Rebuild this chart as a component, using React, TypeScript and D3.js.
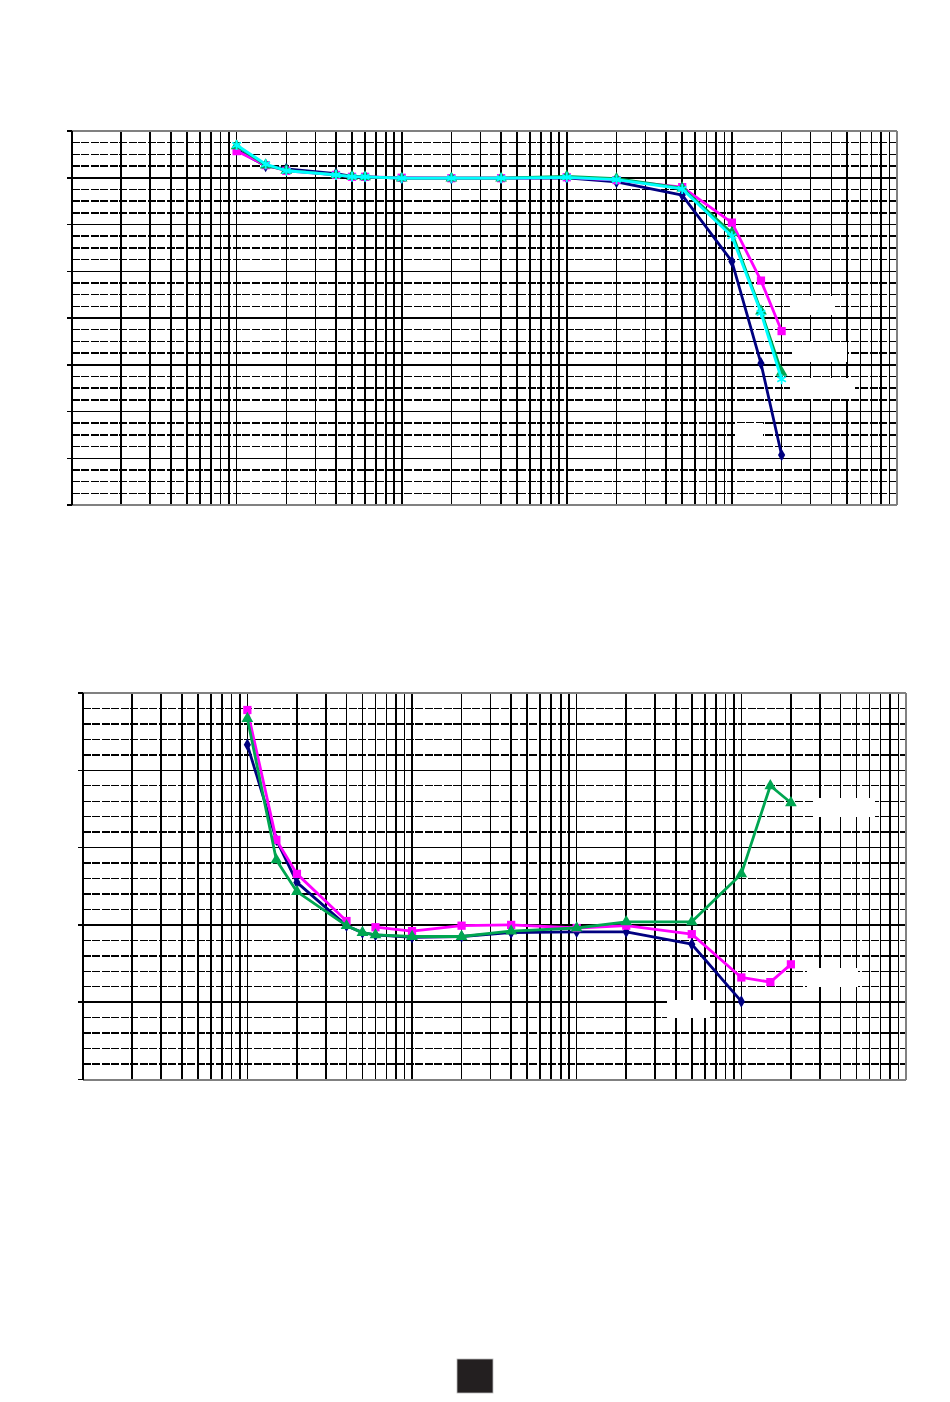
import React from "react";
import * as d3 from "d3";

// ---------- data ----------
const freqs = [100, 150, 200, 400, 500, 600, 1000, 2000, 4000, 10000, 20000, 50000, 100000, 150000, 200000];

// chart 1 (response), units per major grid division = 1
const c1Navy = [0.6, 0.25, 0.19, 0.09, 0.03, 0.02, -0.01, -0.01, -0.01, 0.0, -0.09, -0.37, -1.79, -3.97, -5.93];
const c1Magenta = [0.57, 0.27, 0.15, 0.06, 0.02, 0.02, 0.0, -0.01, -0.01, 0.01, -0.05, -0.2, -0.96, -2.2, -3.28];
const c1Green = [0.68, 0.27, 0.16, 0.06, 0.03, 0.02, -0.01, -0.01, -0.01, 0.03, -0.02, -0.22, -1.18, -2.85, -4.16];
const c1Cyan = [0.7, 0.29, 0.15, 0.06, 0.02, 0.02, -0.01, -0.01, -0.01, 0.01, -0.04, -0.24, -1.25, -2.89, -4.31];

// chart 2
const c2Navy: (number | null)[] = [4.33, 3.1, 2.55, 1.99, 1.9, 1.87, 1.84, 1.85, 1.9, 1.91, 1.91, 1.75, 1.01, null, null];
const c2Magenta: (number | null)[] = [4.78, 3.1, 2.66, 2.05, null, 1.97, 1.92, 1.99, 2.0, 1.96, 1.99, 1.88, 1.32, 1.26, 1.49];
const c2Green: (number | null)[] = [4.67, 2.84, 2.43, 1.99, 1.9, 1.87, 1.85, 1.85, 1.92, 1.96, 2.04, 2.04, 2.66, 3.8, 3.58];

const xDomain = [10, 1000000];
const y1Domain = [-7, 1];
const y2Domain = [0, 5];

type Series = { values: (number | null)[]; color: string; marker: string };

const series1: Series[] = [
  { values: c1Navy, color: "#000080", marker: "diamond" },
  { values: c1Magenta, color: "#ff00ff", marker: "square" },
  { values: c1Green, color: "#00a651", marker: "triangle" },
  { values: c1Cyan, color: "#00ffff", marker: "star" },
];
const series2: Series[] = [
  { values: c2Navy, color: "#000080", marker: "diamond" },
  { values: c2Magenta, color: "#ff00ff", marker: "square" },
  { values: c2Green, color: "#00a651", marker: "triangle" },
];

function Marker({ kind, x, y, color }: { kind: string; x: number; y: number; color: string }) {
  if (kind === "star") {
    const p = d3.symbol().type((d3 as any).symbolAsterisk || d3.symbolCross).size(70)();
    return <path d={p || ""} transform={`translate(${x},${y})`} fill="none" stroke={color} strokeWidth={1.8} />;
  }
  const type = kind === "diamond" ? d3.symbolDiamond : kind === "square" ? d3.symbolSquare : d3.symbolTriangle;
  const size = kind === "diamond" ? 45 : kind === "square" ? 68 : 60;
  const p = d3.symbol().type(type).size(size)();
  return <path d={p || ""} transform={`translate(${x},${y})`} fill={color} stroke="none" />;
}

function LogChart({
  left, right, top, bottom, yDomain, minorPerMajor, series, whiteBoxes,
}: {
  left: number; right: number; top: number; bottom: number; yDomain: number[]; minorPerMajor: number;
  series: Series[]; whiteBoxes: number[][];
}) {
  const x = d3.scaleLog().domain(xDomain).range([left, right]);
  const y = d3.scaleLinear().domain(yDomain).range([bottom, top]);
  const vlines: number[] = [];
  for (let e = 1; e <= 5; e++) {
    for (let k = 1; k <= 9; k++) {
      const v = k * Math.pow(10, e);
      if (v > xDomain[0] && v < xDomain[1]) vlines.push(v);
    }
  }
  const majors = d3.range(yDomain[0], yDomain[1] + 0.0001, 1);
  const minors: number[] = [];
  for (let m = yDomain[0]; m < yDomain[1]; m++) {
    for (let j = 1; j < minorPerMajor; j++) minors.push(m + j / minorPerMajor);
  }
  const line = d3
    .line<[number, number | null]>()
    .defined((d) => d[1] !== null)
    .x((d) => x(d[0]))
    .y((d) => y(d[1] as number));

  return (
    <g>
      <rect x={left} y={top} width={right - left} height={bottom - top} fill="#fff" />
      <g shapeRendering="crispEdges">
        {minors.map((m, i) => (
          <line key={"mi" + i} x1={left} x2={right} y1={y(m)} y2={y(m)} stroke="#000" strokeWidth={1.4} strokeDasharray="8,1.5" />
        ))}
        {majors.map((m, i) => (
          <line key={"ma" + i} x1={left} x2={right} y1={y(m)} y2={y(m)} stroke="#000" strokeWidth={1.5} />
        ))}
        {vlines.map((v, i) => (
          <line key={"v" + i} x1={x(v)} x2={x(v)} y1={top} y2={bottom} stroke="#000" strokeWidth={1.6} />
        ))}
      </g>
      {whiteBoxes.map((b, i) => (
        <rect key={"wb" + i} x={b[0]} y={b[1]} width={b[2]} height={b[3]} fill="#fff" />
      ))}
      {/* borders */}
      <g shapeRendering="crispEdges">
        <line x1={left} x2={right} y1={top} y2={top} stroke="#808080" strokeWidth={2} />
        <line x1={right} x2={right} y1={top} y2={bottom} stroke="#808080" strokeWidth={2} />
        <line x1={left} x2={right} y1={bottom} y2={bottom} stroke="#808080" strokeWidth={2} />
        <line x1={left} x2={left} y1={top} y2={bottom} stroke="#000" strokeWidth={2} />
        {majors.map((m, i) => (
          <line key={"t" + i} x1={left - 5} x2={left} y1={y(m)} y2={y(m)} stroke="#000" strokeWidth={1.5} />
        ))}
      </g>
      {series.map((s, si) => {
        const pts: [number, number | null][] = freqs.map((f, i) => [f, s.values[i] ?? null]);
        return (
          <g key={"s" + si}>
            <path d={line(pts) || ""} fill="none" stroke={s.color} strokeWidth={2.8} strokeLinejoin="round" />
            {pts.filter((p) => p[1] !== null).map((p, i) => (
              <Marker key={i} kind={s.marker} x={x(p[0])} y={y(p[1] as number)} color={s.color} />
            ))}
          </g>
        );
      })}
    </g>
  );
}

export default function App() {
  return (
    <svg width={950} height={1402} style={{ position: "absolute", left: 0, top: 0, background: "#fff" }}>
      <rect x={0} y={0} width={950} height={1402} fill="#fff" />
      <LogChart
        left={71.5} right={897} top={131} bottom={505}
        yDomain={y1Domain} minorPerMajor={4} series={series1}
        whiteBoxes={[[790, 296, 45, 19], [793, 342, 54, 20], [790, 378, 65, 21], [736, 423, 27, 15]]}
      />
      <LogChart
        left={82.7} right={906} top={693} bottom={1079.5}
        yDomain={y2Domain} minorPerMajor={5} series={series2}
        whiteBoxes={[[813, 798, 62, 19], [807, 968, 51, 19], [667, 1000, 43, 18]]}
      />
      <rect x={457} y={1359} width={36} height={34} fill="#231f20" stroke="#bbb" strokeWidth={0.8} />
    </svg>
  );
}
